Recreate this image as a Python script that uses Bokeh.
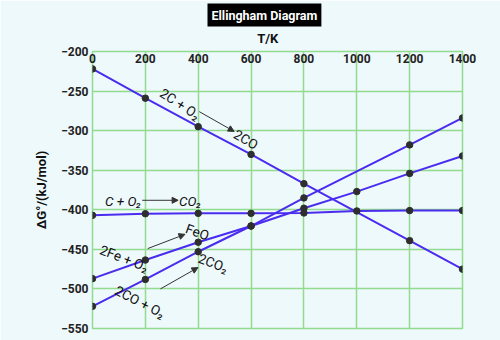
from bokeh.plotting import figure
from bokeh.models import FixedTicker, Arrow, NormalHead, Title, Range1d
from bokeh.core.properties import value
from bokeh.embed import file_html
from bokeh.resources import INLINE

# ---- data ----
x_ticks = [0, 200, 400, 600, 800, 1000, 1200, 1400]
y_ticks = [-200, -250, -300, -350, -400, -450, -500, -550]

c_co_T = [0, 200, 400, 600, 800, 1200, 1400]
c_co_G = [-222, -259, -295, -330, -367, -439, -475]

c_co2_T = [0, 200, 400, 600, 800, 1000, 1200, 1400]
c_co2_G = [-407, -405, -404.5, -404.5, -404, -401.5, -401, -401]

fe_feo_T = [0, 200, 400, 600, 800, 1000, 1200, 1400]
fe_feo_G = [-487, -463.5, -441, -420.5, -398, -377, -354, -332]

co_co2_T = [0, 200, 400, 600, 800, 1200, 1400]
co_co2_G = [-522, -488, -453, -420.5, -385, -318, -284]

series = [(c_co_T, c_co_G), (c_co2_T, c_co2_G), (fe_feo_T, fe_feo_G), (co_co2_T, co_co2_G)]

# annotation texts: (text, x, y, angle_deg, italic)
notes = [
    ("2C + O\u2082", 332, -266, -33, "normal"),
    ("2CO", 581, -311, -30, "normal"),
    ("C + O\u2082", 116, -389, 0, "italic"),
    ("CO\u2082", 370, -389, 0, "italic"),
    ("2Fe + O\u2082", 120, -461, -21, "normal"),
    ("FeO", 397, -428, -20, "normal"),
    ("2CO + O\u2082", 180, -516, -27, "normal"),
    ("2CO\u2082", 457, -467, -20, "normal"),
]
arrows = [
    (404, -276, 536, -301),
    (188, -388, 324, -388),
    (209, -449, 350, -431),
    (257, -500, 399, -473),
]

BG = "#EEF9FC"
GRID = "#93DB8F"
LINE = "#4A2CF0"
DOT = "#2E2E2E"
FONT = "Roboto"

p = figure(width=500, height=340, x_range=Range1d(0, 1400), y_range=Range1d(-550, -200),
           x_axis_location="above", output_backend="svg", toolbar_location=None,
           min_border_left=92, min_border_right=38, min_border_top=10, min_border_bottom=12,
           background_fill_color=BG, border_fill_color=BG)

p.outline_line_color = GRID
p.outline_line_width = 1.5

p.xaxis.ticker = FixedTicker(ticks=x_ticks)
p.yaxis.ticker = FixedTicker(ticks=y_ticks)
p.yaxis.major_label_overrides = {t: "\u2212" + str(-t) for t in y_ticks}

for ax in (p.xaxis, p.yaxis):
    ax.axis_line_color = None
    ax.major_tick_line_color = None
    ax.minor_tick_line_color = None
    ax.major_tick_out = 0
    ax.major_tick_in = 0
    ax.minor_tick_out = 0
    ax.major_label_text_font = FONT
    ax.major_label_text_font_style = "bold"
    ax.major_label_text_font_size = "12px"
    ax.major_label_text_color = "#222222"
    ax.axis_label_text_font = FONT
    ax.axis_label_text_font_style = "bold"
    ax.axis_label_text_font_size = "13px"
    ax.axis_label_text_color = "#111111"

p.xaxis.axis_label = "T/K" + "\u00a0" * 6
p.xaxis.major_label_standoff = -11
p.xaxis.axis_label_standoff = 5
p.yaxis.axis_label = "\u0394G\u00b0/(kJ/mol)"
p.yaxis.major_label_standoff = 4
p.yaxis.axis_label_standoff = 9

p.grid.grid_line_color = GRID
p.grid.grid_line_width = 1.5
p.xgrid.ticker = FixedTicker(ticks=x_ticks)
p.ygrid.ticker = FixedTicker(ticks=y_ticks)

for xs, ys in series:
    p.line(xs, ys, line_color=LINE, line_width=2)
for xs, ys in series:
    p.scatter(xs, ys, size=6.5, fill_color=DOT, line_color=DOT)

for x0, y0, x1, y1 in arrows:
    p.add_layout(Arrow(end=NormalHead(size=6, fill_color="#333333", line_color="#333333"),
                       x_start=x0, y_start=y0, x_end=x1, y_end=y1,
                       line_color="#333333", line_width=1))

for txt, x, y, ang, style in notes:
    p.text([x], [y], text=[txt], angle=ang, angle_units="deg",
           text_align="center", text_baseline="middle",
           text_font=value(FONT), text_font_size="13.5px", text_font_style=style,
           text_color="#111111")

title = Title(text="Ellingham Diagram", align="left", text_font=FONT,
              text_font_size="12.5px", text_font_style="bold", text_color="white",
              background_fill_color="black", padding=4, offset=115, standoff=2)
p.add_layout(title, "above")

open("out.html", "w").write(file_html(p, INLINE))
